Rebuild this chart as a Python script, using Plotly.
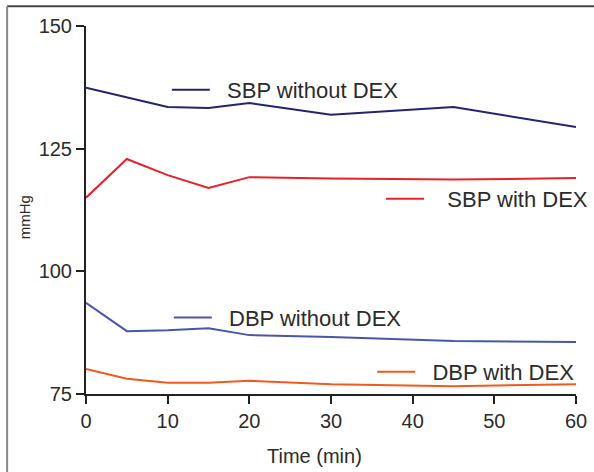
import plotly.graph_objects as go

time = [0, 5, 10, 15, 20, 30, 45, 60]
sbp_without = [137.4, 135.5, 133.5, 133.3, 134.3, 131.9, 133.5, 129.4]
sbp_with = [115.0, 122.9, 119.6, 117.0, 119.2, 118.9, 118.7, 119.0]
dbp_without = [93.6, 87.8, 88.0, 88.4, 87.0, 86.6, 85.8, 85.6]
dbp_with = [80.1, 78.1, 77.3, 77.3, 77.7, 77.0, 76.6, 77.0]

x_title = "Time (min)"
y_title = "mmHg"

NB = "\u00a0"
series = [
    ("SBP without DEX", sbp_without, "#23236f", "legend", 2),
    ("SBP with DEX", sbp_with, "#e8202a", "legend2", 3),
    ("DBP without DEX", dbp_without, "#4a56a8", "legend3", 2),
    ("DBP with DEX", dbp_with, "#f2591f", "legend4", 2),
]

fig = go.Figure()
for name, vals, color, lg, pad in series:
    fig.add_trace(go.Scatter(x=time, y=vals, mode="lines", name=NB * pad + name,
                             line=dict(color=color, width=2), legend=lg, showlegend=True))

font = "Liberation Sans, Arial, sans-serif"
lfont = dict(family=font, size=22, color="#2b2b2b")

def leg(x, y, iw=38):
    return dict(x=x, y=y, xanchor="left", yanchor="middle", bgcolor="rgba(0,0,0,0)",
                font=lfont, itemwidth=iw, borderwidth=0, tracegroupgap=0)

fig.update_layout(
    width=594, height=472,
    showlegend=True,
    margin=dict(l=86, r=18, t=26, b=78, autoexpand=False),
    paper_bgcolor="white", plot_bgcolor="white",
    font=dict(family=font, size=20, color="#2b2b2b"),
    legend=leg(0.165, 0.826),
    legend2=leg(0.602, 0.530),
    legend3=leg(0.169, 0.207),
    legend4=leg(0.584, 0.060),
    xaxis=dict(range=[0, 60], tickvals=[0, 10, 20, 30, 40, 50, 60],
               showline=True, linecolor="#222", linewidth=2, ticks="outside",
               ticklen=8, tickwidth=2, tickcolor="#222", showgrid=False, zeroline=False,
               tickfont=dict(size=20), automargin=False),
    yaxis=dict(range=[75, 150], tickvals=[75, 100, 125, 150],
               showline=True, linecolor="#222", linewidth=2, ticks="outside",
               ticklen=8, tickwidth=2, tickcolor="#222", showgrid=False, zeroline=False,
               tickfont=dict(size=20), automargin=False),
    annotations=[
        dict(text=x_title, xref="paper", yref="paper", x=0.467, y=-0.168,
             xanchor="center", yanchor="middle", showarrow=False,
             font=dict(family=font, size=20, color="#2b2b2b")),
        dict(text=y_title, xref="paper", yref="paper", x=-0.124, y=0.481,
             xanchor="center", yanchor="middle", showarrow=False, textangle=-90,
             font=dict(family=font, size=15, color="#2b2b2b")),
    ],
    shapes=[
        dict(type="line", xref="paper", yref="paper", x0=-0.161, x1=1.05, y0=1.054, y1=1.054,
             line=dict(color="#444", width=2)),
        dict(type="line", xref="paper", yref="paper", x0=-0.161, x1=-0.161, y0=1.054, y1=-0.22,
             line=dict(color="#888", width=2)),
    ],
)

fig.write_html("out.html")
